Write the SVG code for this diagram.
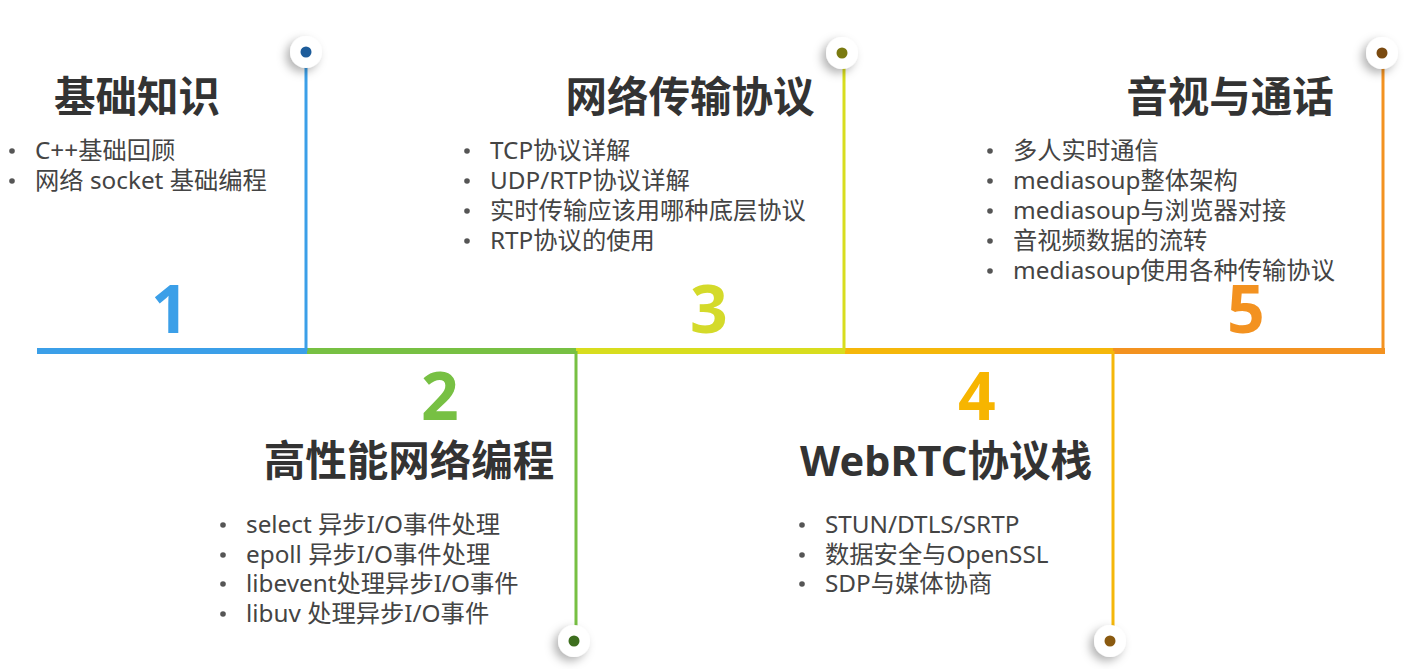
<svg xmlns="http://www.w3.org/2000/svg" width="1412" height="669" viewBox="0 0 1412 669">
<defs>
<style>
.title{font-family:"Noto Sans","Noto Sans CJK SC",sans-serif;font-weight:bold;font-size:41.5px;fill:#333;text-anchor:middle}
.item{font-family:"Noto Sans","Noto Sans CJK SC",sans-serif;font-size:24.3px;fill:#444}
.bul{fill:#555}
.num{font-family:"Noto Sans","Open Sans",sans-serif;font-weight:bold;font-size:66px;text-anchor:middle}
.pin{fill:#fff;filter:url(#sh)}
</style>
<filter id="sh" x="-100%" y="-100%" width="300%" height="300%">
<feDropShadow dx="-4" dy="4" stdDeviation="5" flood-color="#000" flood-opacity="0.3"/>
</filter>
</defs>
<rect width="1412" height="669" fill="#fff"/>
<g id="connectors" fill="none" stroke-linecap="butt">
<line x1="37" y1="351" x2="307" y2="351" stroke="#3b9fe8" stroke-width="6"/>
<line x1="307" y1="351" x2="576" y2="351" stroke="#77c043" stroke-width="6"/>
<line x1="576" y1="351" x2="845" y2="351" stroke="#d8dd1e" stroke-width="6"/>
<line x1="845" y1="351" x2="1113" y2="351" stroke="#f5b70a" stroke-width="6"/>
<line x1="1113" y1="351" x2="1385" y2="351" stroke="#f39220" stroke-width="6"/>
<line x1="306" y1="60" x2="306" y2="351" stroke="#3b9fe8" stroke-width="3"/>
<line x1="576" y1="351" x2="576" y2="632" stroke="#77c043" stroke-width="3"/>
<line x1="844" y1="60" x2="844" y2="351" stroke="#d8dd1e" stroke-width="3"/>
<line x1="1113" y1="351" x2="1113" y2="632" stroke="#f5b70a" stroke-width="3"/>
<line x1="1383" y1="60" x2="1383" y2="351" stroke="#f39220" stroke-width="3"/>
</g>
<g id="node1">
<circle class="pin" cx="306" cy="52" r="16"/>
<circle cx="306" cy="52" r="5.5" fill="#1d5c9a"/>
<text class="num" x="170" y="333" fill="#3b9fe8">1</text>
<text class="title" x="137" y="112">基础知识</text>
<circle class="bul" cx="12" cy="151" r="2.8"/><text class="item" x="35" y="159">C++基础回顾</text>
<circle class="bul" cx="12" cy="181" r="2.8"/><text class="item" x="35" y="189">网络 socket 基础编程</text>
</g>
<g id="node2">
<circle class="pin" cx="574" cy="641" r="16"/>
<circle cx="574" cy="641" r="5.5" fill="#3d6e1e"/>
<text class="num" x="440" y="420" fill="#77c043">2</text>
<text class="title" x="409" y="476">高性能网络编程</text>
<circle class="bul" cx="223" cy="525" r="2.8"/><text class="item" x="246" y="533">select 异步I/O事件处理</text>
<circle class="bul" cx="223" cy="555" r="2.8"/><text class="item" x="246" y="563">epoll 异步I/O事件处理</text>
<circle class="bul" cx="223" cy="584" r="2.8"/><text class="item" x="246" y="592">libevent处理异步I/O事件</text>
<circle class="bul" cx="223" cy="614" r="2.8"/><text class="item" x="246" y="622">libuv 处理异步I/O事件</text>
</g>
<g id="node3">
<circle class="pin" cx="842" cy="53" r="16"/>
<circle cx="842" cy="53" r="5.5" fill="#7a7a10"/>
<text class="num" x="709" y="333" fill="#d4da2a">3</text>
<text class="title" x="690" y="112">网络传输协议</text>
<circle class="bul" cx="467" cy="151" r="2.8"/><text class="item" x="490" y="159">TCP协议详解</text>
<circle class="bul" cx="467" cy="181" r="2.8"/><text class="item" x="490" y="189">UDP/RTP协议详解</text>
<circle class="bul" cx="467" cy="211" r="2.8"/><text class="item" x="490" y="219">实时传输应该用哪种底层协议</text>
<circle class="bul" cx="467" cy="241" r="2.8"/><text class="item" x="490" y="249">RTP协议的使用</text>
</g>
<g id="node4">
<circle class="pin" cx="1110" cy="641" r="16"/>
<circle cx="1110" cy="641" r="5.5" fill="#8a5a10"/>
<text class="num" x="977" y="420" fill="#f7b500">4</text>
<text class="title" x="946" y="476">WebRTC协议栈</text>
<circle class="bul" cx="802" cy="525" r="2.8"/><text class="item" x="825" y="533">STUN/DTLS/SRTP</text>
<circle class="bul" cx="802" cy="555" r="2.8"/><text class="item" x="825" y="563">数据安全与OpenSSL</text>
<circle class="bul" cx="802" cy="584" r="2.8"/><text class="item" x="825" y="592">SDP与媒体协商</text>
</g>
<g id="node5">
<circle class="pin" cx="1382" cy="53" r="16"/>
<circle cx="1382" cy="53" r="5.5" fill="#7a4a10"/>
<text class="num" x="1246" y="333" fill="#f39220">5</text>
<text class="title" x="1230" y="112">音视与通话</text>
<circle class="bul" cx="990" cy="151" r="2.8"/><text class="item" x="1013" y="159">多人实时通信</text>
<circle class="bul" cx="990" cy="181" r="2.8"/><text class="item" x="1013" y="189">mediasoup整体架构</text>
<circle class="bul" cx="990" cy="211" r="2.8"/><text class="item" x="1013" y="219">mediasoup与浏览器对接</text>
<circle class="bul" cx="990" cy="241" r="2.8"/><text class="item" x="1013" y="249">音视频数据的流转</text>
<circle class="bul" cx="990" cy="271" r="2.8"/><text class="item" x="1013" y="279">mediasoup使用各种传输协议</text>
</g>
</svg>
